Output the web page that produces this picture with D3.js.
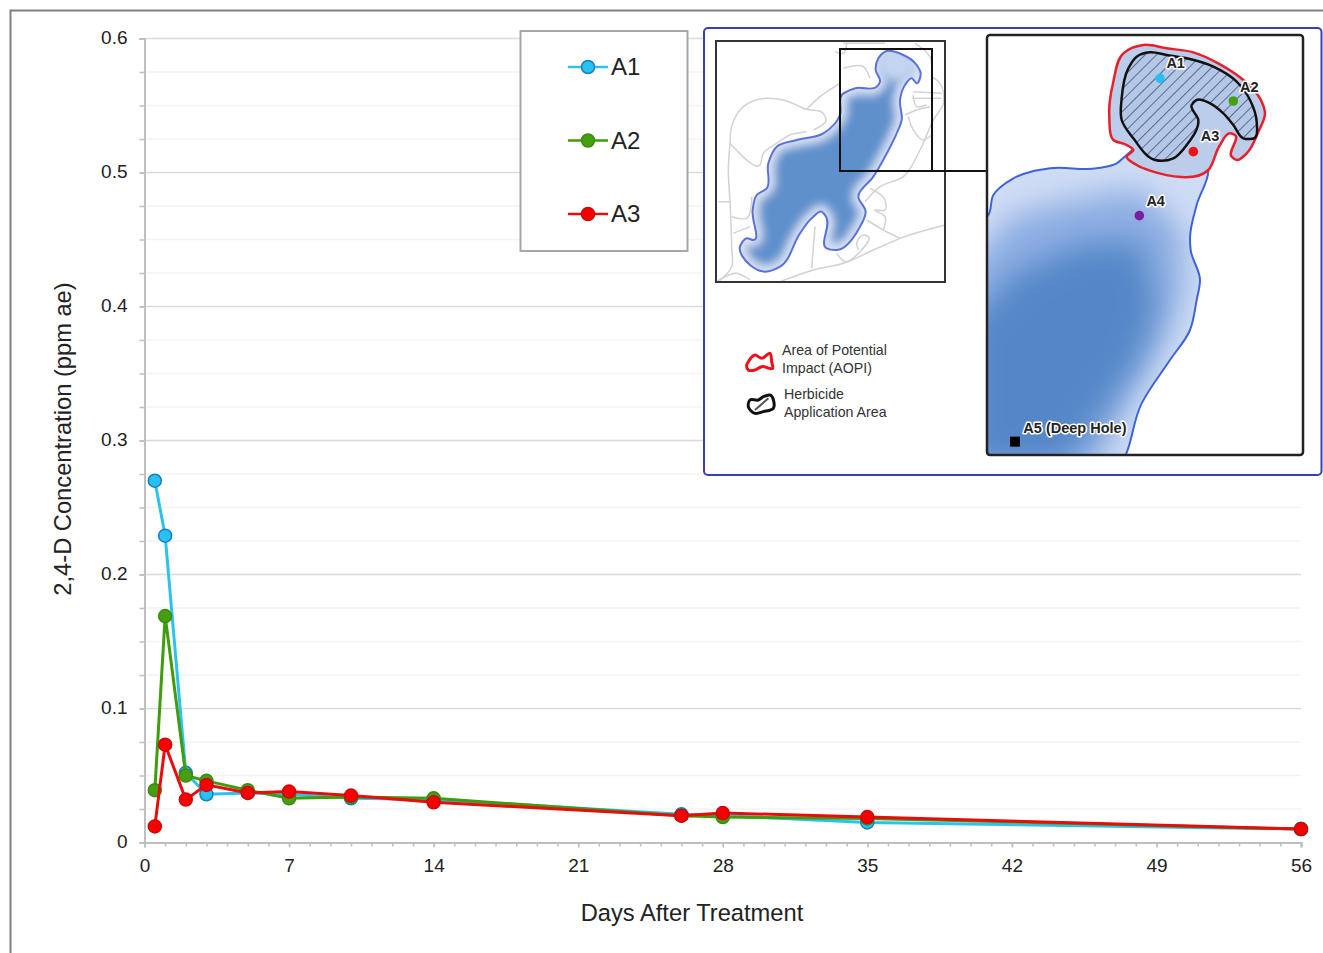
<!DOCTYPE html>
<html>
<head>
<meta charset="utf-8">
<script src="https://cdn.jsdelivr.net/npm/d3@7"></script>
<style>
  html, body { margin: 0; padding: 0; background: #fff; }
  svg { display: block; }
  text { font-family: "Liberation Sans", Arial, sans-serif; }
</style>
</head>
<body>
<svg id="chart" width="1323" height="953"></svg>
<script>
const days = [0.5, 1, 2, 3, 5, 7, 10, 14, 26, 28, 35, 56]
const a1Values = [0.27, 0.229, 0.052, 0.036, 0.037, 0.036, 0.033, 0.032, 0.021, 0.02, 0.015, 0.01]
const a2Values = [0.039, 0.169, 0.05, 0.046, 0.039, 0.033, 0.034, 0.033, 0.02, 0.019, 0.018, 0.01]
const a3Values = [0.012, 0.073, 0.032, 0.043, 0.037, 0.038, 0.035, 0.03, 0.02, 0.022, 0.019, 0.01]
const seriesNames = ['A1', 'A2', 'A3']
const xTicks = [0, 7, 14, 21, 28, 35, 42, 49, 56]
const yTicks = [0, 0.1, 0.2, 0.3, 0.4, 0.5, 0.6]
const yMinorTicks = d3.range(0, 25).map(i => i * 0.025)
const xMinorTicks = d3.range(0, 57)

// inset map outlines, traced in crop coordinates (3x of the map area)
const overviewLake = [[555,95],[610,105],[650,135],[662,160],[650,190],[635,175],[615,195],[600,240],[605,300],[590,340],[555,410],[520,470],[475,530],[497,575],[480,620],[410,690],[380,685],[378,590],[365,575],[335,595],[300,640],[240,740],[195,755],[150,735],[120,680],[140,655],[160,660],[158,570],[170,525],[200,505],[205,430],[230,380],[290,360],[370,340],[420,285],[425,225],[465,205],[530,200],[540,185],[527,150],[535,115]]
const overviewRoads = [
  [[90,370],[85,450],[90,545],[95,680],[95,740],[55,785]],
  [[90,370],[95,320],[130,260],[200,235],[250,240],[320,268],[370,280],[378,300],[340,330]],
  [[320,268],[360,230],[420,190]],
  [[90,370],[180,435],[190,400],[230,370],[270,345],[320,335]],
  [[55,545],[90,545]],
  [[95,590],[140,595],[155,530]],
  [[100,640],[150,620]],
  [[50,785],[110,760],[150,780]],
  [[240,785],[340,750],[430,730],[520,690],[600,655],[735,615]],
  [[335,745],[345,620]],
  [[410,700],[435,725],[480,695],[505,650],[490,645],[470,670],[475,690]],
  [[500,600],[550,630],[600,655]],
  [[510,505],[555,540],[555,570],[525,570],[555,590],[550,630]],
  [[495,545],[540,500],[610,470],[660,390],[700,300],[730,250],[720,190],[695,170]],
  [[430,145],[490,140],[510,175]],
  [[405,95],[430,100],[440,70]],
  [[640,215],[725,220]],
  [[635,235],[725,235]],
  [[640,225],[650,260],[680,255]],
  [[615,285],[650,270],[690,260]],
  [[625,290],[640,330],[670,360],[695,345]],
  [[645,70],[690,110],[695,170]],
  [[430,70],[555,70]]
]
const panelLake = [[-10,1340],[-20,800],[-10,600],[25,570],[40,510],[100,460],[210,430],[350,430],[410,415],[440,390],[560,300],[685,435],[650,540],[630,640],[632,675],[660,765],[650,825],[630,915],[570,1005],[485,1135],[420,1320],[400,1345]]
const panelMid = [[-40,1320],[-40,730],[100,570],[300,520],[480,490],[610,620],[610,800],[550,950],[460,1100],[350,1320]]
const panelDeep = [[-40,1320],[-40,900],[100,750],[300,660],[480,650],[530,840],[480,1000],[410,1100],[310,1250],[260,1320]]
const panelRed = [[440,395],[460,375],[440,360],[400,345],[388,280],[400,170],[430,85],[490,60],[560,70],[640,82],[720,118],[790,165],[840,220],[855,265],[835,320],[800,385],[770,405],[755,395],[765,330],[750,325],[720,360],[685,435],[510,437],[470,420]]
const panelBlack = [[510,82],[470,95],[445,130],[425,220],[425,285],[460,340],[525,405],[580,400],[620,360],[655,285],[635,240],[650,225],[690,235],[730,265],[760,300],[790,340],[825,338],[830,290],[810,225],[770,170],[700,125],[620,100],[560,90]]
const keyRed = [[85,125],[105,105],[125,115],[150,100],[155,125],[158,145],[125,140],[105,150],[85,150],[80,135]]
const keyBlack = [[90,240],[115,240],[130,230],[150,225],[160,265],[130,275],[105,280],[85,260]]
const keyHatch = [[105,270],[145,235]]
const keyLabels = [['Area of Potential', 'Impact (AOPI)'], ['Herbicide', 'Application Area']]
const stations = [
  { name: 'A1', at: [540,160], label: [587,115], color: '#29c0f0' },
  { name: 'A2', at: [760,228], label: [808,185], color: '#45a010' },
  { name: 'A3', at: [640,380], label: [690,333], color: '#f01010' },
  { name: 'A4', at: [478,572], label: [527,528], color: '#7a1fa0' }
]

const svg = d3.select('#chart')
const x = d3.scaleLinear().domain([0, 56]).range([144.5, 1301])
const y = d3.scaleLinear().domain([0, 0.6]).range([842.5, 38.5])

// page frame
svg.append('path').attr('d', 'M10.5,953V10.5H1323').attr('fill', 'none').attr('stroke', '#808080').attr('stroke-width', 2)

// grid
svg.append('g').selectAll('line').data(yMinorTicks.filter(d => Math.round(d * 1000) % 100 !== 0)).enter().append('line')
  .attr('x1', x(0)).attr('x2', x(56)).attr('y1', d => y(d)).attr('y2', d => y(d))
  .attr('stroke', '#f3f3f3').attr('stroke-width', 1.5)
svg.append('g').selectAll('line').data(yTicks.slice(1)).enter().append('line')
  .attr('x1', x(0)).attr('x2', x(56)).attr('y1', d => y(d)).attr('y2', d => y(d))
  .attr('stroke', '#d9d9d9').attr('stroke-width', 1.5)

// axes
const styleAxis = g => {
  g.select('.domain').attr('stroke', '#bfbfbf').attr('stroke-width', 2)
  g.selectAll('.tick line').attr('stroke', '#bfbfbf').attr('stroke-width', 1.5)
  g.selectAll('text').attr('font-size', 19).attr('fill', '#222')
}
svg.append('g').attr('transform', 'translate(144.5,0)')
  .call(d3.axisLeft(y).tickValues(yMinorTicks).tickSize(5).tickFormat(''))
  .call(styleAxis)
svg.append('g').attr('transform', 'translate(144.5,0)')
  .call(d3.axisLeft(y).tickValues(yTicks).tickSize(5).tickPadding(12).tickFormat(d => d === 0 ? '0' : d3.format('.1f')(d)))
  .call(styleAxis)
  .call(g => g.selectAll('text').attr('dy', '0.27em'))
svg.append('g').attr('transform', 'translate(0,842.5)')
  .call(d3.axisBottom(x).tickValues(xMinorTicks).tickSize(4).tickFormat(''))
  .call(styleAxis)
svg.append('g').attr('transform', 'translate(0,842.5)')
  .call(d3.axisBottom(x).tickValues(xTicks).tickSize(5).tickPadding(11))
  .call(styleAxis)

svg.append('text').attr('x', 692).attr('y', 921).attr('text-anchor', 'middle')
  .attr('font-size', 23.7).attr('fill', '#222').text('Days After Treatment')
svg.append('text').attr('transform', 'translate(71,439) rotate(-90)').attr('text-anchor', 'middle')
  .attr('font-size', 23.7).attr('fill', '#222').text('2,4-D Concentration (ppm ae)')

// series
const series = [
  { name: seriesNames[0], values: a1Values, line: '#2bc3ee', fill: '#29c0f5', edge: '#1a7fb8' },
  { name: seriesNames[1], values: a2Values, line: '#3f9c0c', fill: '#45a010', edge: '#3a8a10' },
  { name: seriesNames[2], values: a3Values, line: '#e80c0c', fill: '#f80000', edge: '#c80a0a' }
]
const line = d3.line().x((d, i) => x(days[i])).y(d => y(d))
series.forEach(s => {
  svg.append('path').datum(s.values).attr('d', line)
    .attr('fill', 'none').attr('stroke', s.line).attr('stroke-width', 3)
  svg.append('g').selectAll('circle').data(s.values).enter().append('circle')
    .attr('cx', (d, i) => x(days[i])).attr('cy', d => y(d)).attr('r', 6.5)
    .attr('fill', s.fill).attr('stroke', s.edge).attr('stroke-width', 1.5)
})

// legend
svg.append('rect').attr('x', 520.5).attr('y', 31).attr('width', 167).attr('height', 220)
  .attr('fill', '#fff').attr('stroke', '#a6a6a6').attr('stroke-width', 2)
const legendRow = d3.scalePoint().domain(seriesNames).range([67, 214])
series.forEach(s => {
  const g = svg.append('g').attr('transform', 'translate(0,' + legendRow(s.name) + ')')
  g.append('line').attr('x1', 568).attr('x2', 608).attr('stroke', s.line).attr('stroke-width', 2.5)
  g.append('circle').attr('cx', 588).attr('r', 6.5).attr('fill', s.fill).attr('stroke', s.edge).attr('stroke-width', 1.5)
  g.append('text').attr('x', 611).attr('y', 8).attr('font-size', 24).attr('fill', '#222').text(s.name)
})

// inset
const defs = svg.append('defs')
const blur = (id, amount) => defs.append('filter').attr('id', id)
  .attr('x', '-30%').attr('y', '-30%').attr('width', '160%').attr('height', '160%')
  .append('feGaussianBlur').attr('stdDeviation', amount)
blur('blurWide', 15)
blur('blurSmall', 5)
const hatch = defs.append('pattern').attr('id', 'hatch').attr('patternUnits', 'userSpaceOnUse')
  .attr('width', 8).attr('height', 8).attr('patternTransform', 'rotate(45)')
hatch.append('rect').attr('width', 8).attr('height', 8).attr('fill', '#b5c7e6')
hatch.append('line').attr('x1', 0).attr('x2', 0).attr('y1', 0).attr('y2', 8).attr('stroke', '#4d5f85').attr('stroke-width', 1.8)

svg.append('rect').attr('x', 704).attr('y', 28).attr('width', 617.5).attr('height', 447).attr('rx', 4)
  .attr('fill', '#fff').attr('stroke', '#3b40b0').attr('stroke-width', 2)

// overview map
const ovX = d3.scaleLinear().domain([0, 3]).range([700, 701])
const ovY = d3.scaleLinear().domain([0, 3]).range([20, 21])
const ovLine = d3.line().x(d => ovX(d[0])).y(d => ovY(d[1])).curve(d3.curveCatmullRom.alpha(1))
const ovClosed = d3.line().x(d => ovX(d[0])).y(d => ovY(d[1])).curve(d3.curveCatmullRomClosed.alpha(1))

svg.append('g').selectAll('path').data(overviewRoads).enter().append('path')
  .attr('d', ovLine).attr('fill', 'none').attr('stroke', '#d2d2d2').attr('stroke-width', 1.5)
defs.append('clipPath').attr('id', 'ovClip').append('path').attr('d', ovClosed(overviewLake))
const ovLake = svg.append('g').attr('clip-path', 'url(#ovClip)')
ovLake.append('path').attr('d', ovClosed(overviewLake)).attr('fill', '#d2dff5')
ovLake.append('path').attr('d', ovClosed(overviewLake))
  .attr('fill', '#5f90cc').attr('stroke', '#dbe5f8').attr('stroke-width', 12).attr('filter', 'url(#blurSmall)')
ovLake.append('circle').attr('cx', ovX(590)).attr('cy', ovY(125)).attr('r', 20)
  .attr('fill', '#c3d4f1').attr('filter', 'url(#blurSmall)')
svg.append('path').attr('d', ovClosed(overviewLake)).attr('fill', 'none').attr('stroke', '#5a72d8').attr('stroke-width', 2)
svg.append('rect').attr('x', 716).attr('y', 41).attr('width', 229).attr('height', 241)
  .attr('fill', 'none').attr('stroke', '#333').attr('stroke-width', 2)
svg.append('rect').attr('x', 840).attr('y', 49).attr('width', 92).attr('height', 122)
  .attr('fill', 'none').attr('stroke', '#111').attr('stroke-width', 2)
svg.append('line').attr('x1', 932).attr('x2', 987).attr('y1', 171).attr('y2', 171)
  .attr('stroke', '#111').attr('stroke-width', 2)

// zoomed map panel
const pnX = d3.scaleLinear().domain([0, 3]).range([980, 981])
const pnY = d3.scaleLinear().domain([0, 3]).range([25, 26])
const pnPoly = d3.line().x(d => pnX(d[0])).y(d => pnY(d[1]))
const pnSmooth = d3.line().x(d => pnX(d[0])).y(d => pnY(d[1])).curve(d3.curveCatmullRomClosed.alpha(1))
defs.append('clipPath').attr('id', 'pnBox').append('rect').attr('x', 987).attr('y', 35).attr('width', 316).attr('height', 420).attr('rx', 3)
defs.append('clipPath').attr('id', 'pnLakeClip').append('path').attr('d', pnSmooth(panelLake))

svg.append('rect').attr('x', 987).attr('y', 35).attr('width', 316).attr('height', 420).attr('rx', 3).attr('fill', '#fff')
const panel = svg.append('g').attr('clip-path', 'url(#pnBox)')
const water = panel.append('g').attr('clip-path', 'url(#pnLakeClip)')
water.append('path').attr('d', pnSmooth(panelLake)).attr('fill', '#cfdcf5')
water.append('path').attr('d', pnPoly(panelMid) + 'Z').attr('fill', '#8cade2').attr('filter', 'url(#blurWide)')
water.append('path').attr('d', pnPoly(panelDeep) + 'Z').attr('fill', '#5487c8').attr('filter', 'url(#blurWide)')
panel.append('path').attr('d', pnSmooth(panelLake)).attr('fill', 'none').attr('stroke', '#3c64d8').attr('stroke-width', 2)
panel.append('path').attr('d', pnSmooth(panelRed)).attr('fill', '#bccdec').attr('stroke', '#e8202a').attr('stroke-width', 2.5)
panel.append('path').attr('d', pnSmooth(panelBlack)).attr('fill', 'url(#hatch)').attr('stroke', '#111').attr('stroke-width', 2.5)

const haloText = (sel) => sel.attr('font-size', 14.5).attr('font-weight', 'bold').attr('fill', '#222')
  .attr('stroke', '#fff').attr('stroke-width', 3).attr('stroke-linejoin', 'round').attr('paint-order', 'stroke')

stations.forEach(s => {
  panel.append('circle').attr('cx', pnX(s.at[0])).attr('cy', pnY(s.at[1])).attr('r', 4.8).attr('fill', s.color)
  panel.append('text').attr('x', pnX(s.label[0])).attr('y', pnY(s.label[1]) + 5).attr('text-anchor', 'middle')
    .call(haloText).text(s.name)
})
panel.append('rect').attr('x', pnX(105) - 5).attr('y', pnY(1250) - 5).attr('width', 10).attr('height', 10).attr('fill', '#000')
panel.append('text').attr('x', pnX(130)).attr('y', pnY(1208) + 5).call(haloText).text('A5 (Deep Hole)')

svg.append('rect').attr('x', 987).attr('y', 35).attr('width', 316).attr('height', 420).attr('rx', 3)
  .attr('fill', 'none').attr('stroke', '#222').attr('stroke-width', 2.5)

// map key
const keyX = d3.scaleLinear().domain([0, 3]).range([720, 721])
const keyY = d3.scaleLinear().domain([0, 3]).range([320, 321])
const keyPath = d3.line().x(d => keyX(d[0])).y(d => keyY(d[1])).curve(d3.curveCatmullRomClosed.alpha(1))
svg.append('path').attr('d', keyPath(keyRed)).attr('fill', '#fff').attr('stroke', '#f01018').attr('stroke-width', 3)
svg.append('path').attr('d', keyPath(keyBlack)).attr('fill', '#fff').attr('stroke', '#111').attr('stroke-width', 3)
svg.append('path').attr('d', d3.line().x(d => keyX(d[0])).y(d => keyY(d[1]))(keyHatch)).attr('stroke', '#555').attr('stroke-width', 2)
const keyText = svg.append('g').attr('font-size', 14.2).attr('fill', '#333')
keyLabels[0].forEach((t, i) => keyText.append('text').attr('x', 782).attr('y', 355 + i * 18).text(t))
keyLabels[1].forEach((t, i) => keyText.append('text').attr('x', 784).attr('y', 399 + i * 18).text(t))
</script>
</body>
</html>
